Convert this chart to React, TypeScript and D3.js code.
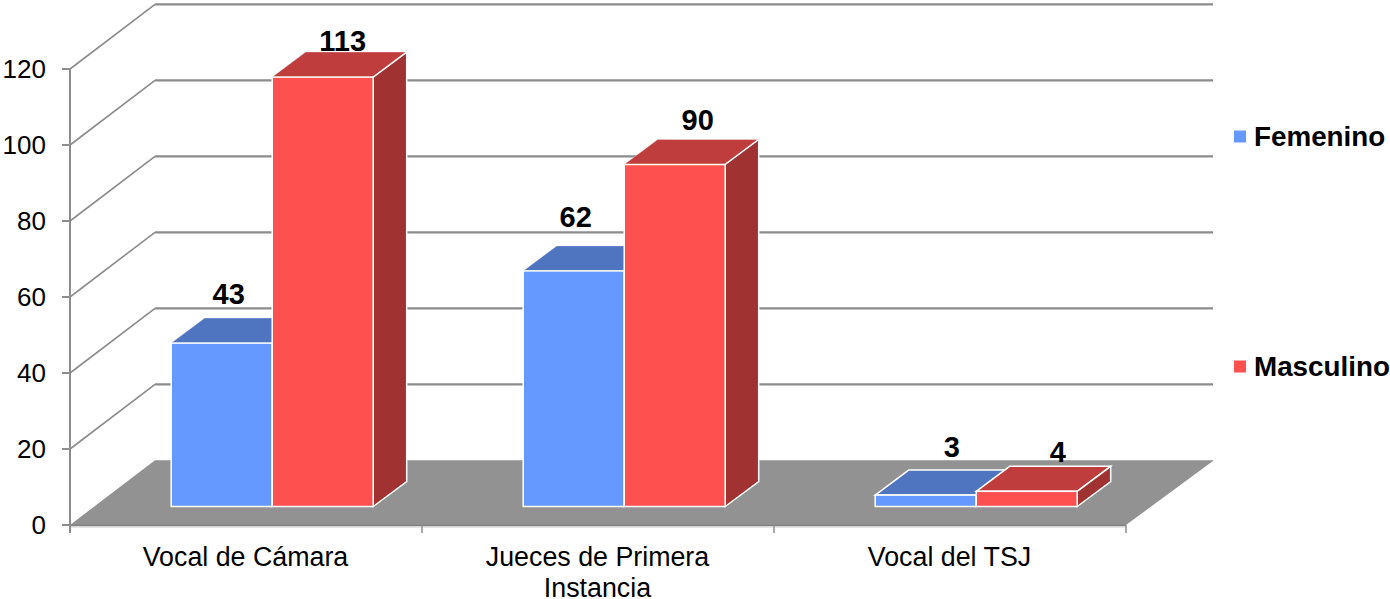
import React from "react";
import * as d3 from "d3";

const categories = [["Vocal de Cámara"], ["Jueces de Primera", "Instancia"], ["Vocal del TSJ"]];
const femenino = [43, 62, 3];
const masculino = [113, 90, 4];
const yTicks = [0, 20, 40, 60, 80, 100, 120];
const seriesNames = ["Femenino", "Masculino"];
const seriesFront = ["#6699ff", "#ff5050"];
const seriesTop = ["#4f74c0", "#bf3d3d"];
const seriesSide = ["#3d5c99", "#a03232"];
// manual data-label nudges relative to each bar's front-top centre
const labelDx = [[7, 2, 26], [20, 23, 31]];
const labelDy = [[-39, -44, -38], [-26, -35, -29]];

const W = 1390, H = 599;
const FONT = "'Liberation Sans', Arial, sans-serif";
const GRID = "#8c8c8c";
const y = d3.scaleLinear().domain([0, 120]).range([525, 69]);
const x = d3.scaleLinear().domain([0, 3]).range([70, 1126]);
const wallDx = 85, wallDy = -64.7;
const barDx = 33.5, barDy = -25;
const baseShift = -18.5, groupInset = 101.2, barW = 101;

const pts = (p: number[][]) => p.map((q) => q.join(",")).join(" ");

export default function App() {
  const x0 = x(0), x3 = x(3), y0 = y(0);
  const barsFor = (c: number, s: number, v: number) => {
    const l = x(c) + groupInset + s * barW;
    const r = l + barW;
    const b = y(0) + baseShift;
    const t = b - (y(0) - y(v));
    const stroke = "#ffffff";
    return (
      <g key={`${c}-${s}`}>
        <polygon points={pts([[l, t], [l + barDx, t + barDy], [r + barDx, t + barDy], [r, t]])} fill={seriesTop[s]} stroke={stroke} strokeWidth={v < 10 ? 1.5 : 0.6} strokeOpacity={v < 10 ? 1 : 0.5} />
        <polygon points={pts([[r, b], [r + barDx, b + barDy], [r + barDx, t + barDy], [r, t]])} fill={seriesSide[s]} stroke={stroke} strokeWidth={1.5} />
        <rect x={l} y={t} width={barW} height={b - t} fill={seriesFront[s]} stroke={stroke} strokeWidth={1.5} />
      </g>
    );
  };
  const label = (c: number, s: number, v: number) => (
    <text key={`l${c}-${s}`} x={x(c) + groupInset + s * barW + barW / 2 + labelDx[s][c]} y={y(0) + baseShift - (y(0) - y(v)) + labelDy[s][c]} textAnchor="middle" fontFamily={FONT} fontWeight="bold" fontSize={29} fill="#000">{v}</text>
  );
  return (
    <svg width={W} height={H} viewBox={`0 0 ${W} ${H}`} style={{ position: "absolute", left: 0, top: 0, background: "#fff" }}>
      {/* floor */}
      <polygon points={pts([[x0, y0], [x0 + wallDx, y0 + wallDy], [x3 + wallDx + 3, y0 + wallDy], [x3, y0]])} fill="#929292" />
      <line x1={x0} x2={x3} y1={y0 + 0.5} y2={y0 + 0.5} stroke="#808080" strokeWidth={1.5} />
      <line x1={x0} x2={x3} y1={y0 + 2} y2={y0 + 2} stroke="#d0d0d0" strokeWidth={1} />
      {/* gridlines */}
      {yTicks.filter((t) => t > 0).map((t) => (
        <g key={t}>
          <line x1={x0} y1={y(t)} x2={x0 + wallDx} y2={y(t) + wallDy} stroke={GRID} strokeWidth={1.6} />
          <line x1={x0 + wallDx} y1={y(t) + wallDy} x2={x3 + wallDx + 2} y2={y(t) + wallDy} stroke={GRID} strokeWidth={2.2} />
        </g>
      ))}
      {/* axes */}
      <line x1={x0} x2={x0} y1={y(120)} y2={y0 + 8} stroke={GRID} strokeWidth={2} />
      {yTicks.map((t) => (
        <g key={t}>
          <line x1={x0 - 8} x2={x0} y1={y(t)} y2={y(t)} stroke={GRID} strokeWidth={2} />
          <text x={46} y={y(t) + 9} textAnchor="end" fontFamily={FONT} fontSize={26} fill="#000">{t}</text>
        </g>
      ))}
      {[1, 2, 3].map((i) => (
        <line key={i} x1={x(i)} x2={x(i)} y1={y0} y2={y0 + 8} stroke={GRID} strokeWidth={1.5} />
      ))}
      {categories.map((lines, c) => (
        <text key={c} textAnchor="middle" fontFamily={FONT} fontSize={26.8} fill="#000">
          {lines.map((ln, i) => (
            <tspan key={i} x={(x(c) + x(c + 1)) / 2 - 0.5} y={566 + i * 31}>{ln}</tspan>
          ))}
        </text>
      ))}
      {/* bars */}
      {femenino.map((v, c) => barsFor(c, 0, v))}
      {masculino.map((v, c) => barsFor(c, 1, v))}
      {femenino.map((v, c) => label(c, 0, v))}
      {masculino.map((v, c) => label(c, 1, v))}
      {/* legend */}
      {seriesNames.map((n, i) => (
        <g key={n}>
          <rect x={1234} y={[130.5, 360.5][i]} width={12} height={12} fill={seriesFront[i]} />
          <text x={1254} y={[146, 376][i]} fontFamily={FONT} fontWeight="bold" fontSize={27.8} fill="#000">{n}</text>
        </g>
      ))}
    </svg>
  );
}
